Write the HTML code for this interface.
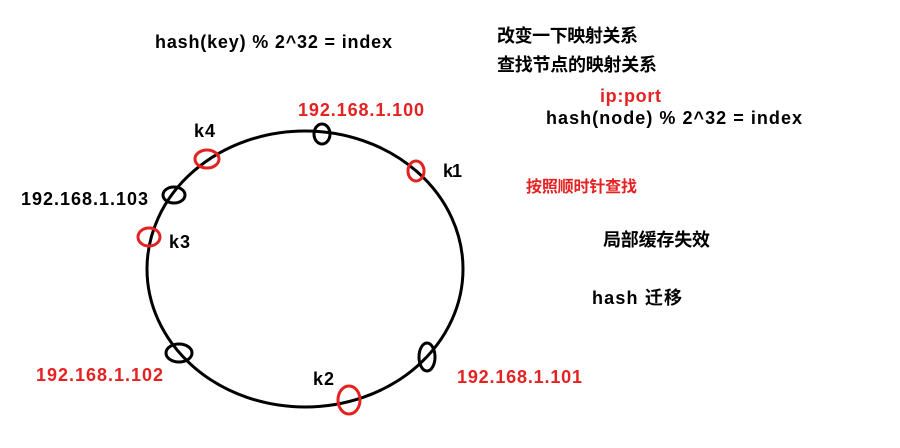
<!DOCTYPE html>
<html><head><meta charset="utf-8"><style>
html,body{margin:0;padding:0;background:#fff;}
svg text{font-family:"Liberation Sans","Noto Sans CJK SC",sans-serif;font-weight:bold;font-size:18px;}
</style></head><body>
<svg width="900" height="443" viewBox="0 0 900 443" xmlns="http://www.w3.org/2000/svg">
<rect width="900" height="443" fill="#fff"/>
<g fill="none" stroke-width="3">
<ellipse cx="305" cy="269" rx="158" ry="138" stroke="#000"/>
<ellipse cx="322" cy="134" rx="8" ry="10" stroke="#000"/>
<ellipse cx="207" cy="159" rx="12" ry="9" stroke="#e52222"/>
<ellipse cx="416" cy="171" rx="8" ry="10" stroke="#e52222"/>
<ellipse cx="174" cy="195" rx="11" ry="8" stroke="#000"/>
<ellipse cx="149" cy="237" rx="11" ry="9" stroke="#e52222"/>
<ellipse cx="179" cy="353" rx="13" ry="9" stroke="#000"/>
<ellipse cx="427" cy="357" rx="8" ry="14" stroke="#000"/>
<ellipse cx="349" cy="400" rx="11" ry="14" stroke="#e52222"/>
</g>
<g fill="#000">
<text x="155" y="48" textLength="237">hash(key) % 2^32  = index</text>
<text x="497" y="42" textLength="141">改变一下映射关系</text>
<text x="497" y="71" textLength="160">查找节点的映射关系</text>
<text x="546" y="124" textLength="256">hash(node) % 2^32  = index</text>
<text x="194" y="137" textLength="21">k4</text>
<text x="443" y="177" textLength="19">k1</text>
<text x="21" y="205" textLength="127">192.168.1.103</text>
<text x="169" y="248" textLength="21">k3</text>
<text x="603" y="246" textLength="107">局部缓存失效</text>
<text x="592" y="304" textLength="90">hash 迁移</text>
<text x="313" y="385" textLength="21">k2</text>
</g>
<g fill="#e52222">
<text x="298" y="116" textLength="126">192.168.1.100</text>
<text x="600" y="102" textLength="61">ip:port</text>
<text x="526" y="192" style="font-size:16px" textLength="111">按照顺时针查找</text>
<text x="36" y="381" textLength="127">192.168.1.102</text>
<text x="457" y="383" textLength="125">192.168.1.101</text>
</g>
</svg>
</body></html>
